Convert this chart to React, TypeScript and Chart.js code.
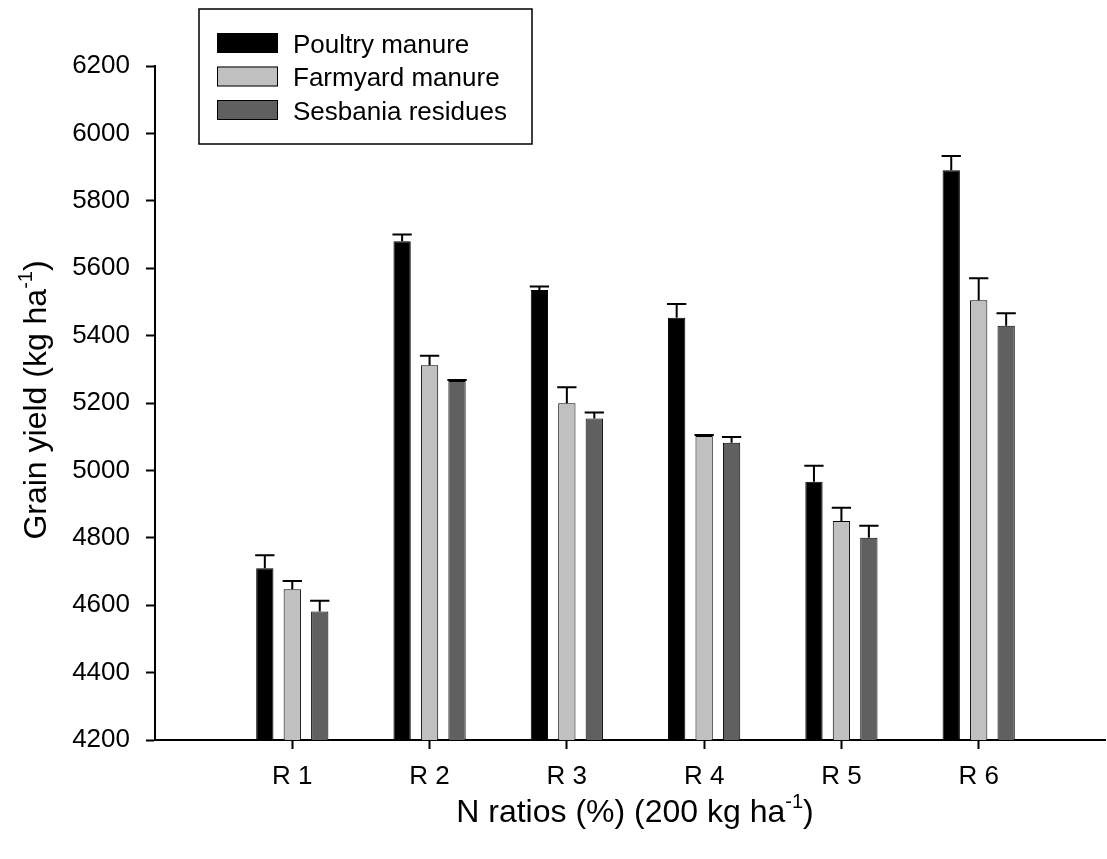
import React, { useEffect, useRef } from 'react';
import { Chart, registerables } from 'chart.js';

Chart.register(...registerables);

// ---- data ----
const categories = ['R 1', 'R 2', 'R 3', 'R 4', 'R 5', 'R 6'];
const seriesNames = ['Poultry manure', 'Farmyard manure', 'Sesbania residues'];
const seriesColors = ['#000000', '#c0c0c0', '#606060'];
const poultry = [4710, 5680, 5535, 5453, 4966, 5891];
const poultryErr = [38, 20, 11, 41, 48, 42];
const farmyard = [4647, 5312, 5199, 5102, 4850, 5505];
const farmyardErr = [25, 28, 48, 3, 39, 65];
const sesbania = [4581, 5265, 5154, 5082, 4800, 5429];
const sesbaniaErr = [32, 3, 18, 17, 36, 37];
const yMin = 4200;
const yMax = 6200;
const yStep = 200;
const xMax = 6.92;
const yTitle = ['Grain yield (kg ha', '-1', ')'];
const xTitle = ['N ratios (%) (200 kg ha', '-1', ')'];

const FONT = '"Liberation Sans", Arial, Helvetica, sans-serif';

function drawSupTitle(ctx: CanvasRenderingContext2D, parts: string[], size: number) {
  const main = `${size}px ${FONT}`;
  const sup = `${Math.round(size * 0.62)}px ${FONT}`;
  ctx.font = main;
  const w1 = ctx.measureText(parts[0]).width;
  const w3 = ctx.measureText(parts[2]).width;
  ctx.font = sup;
  const w2 = ctx.measureText(parts[1]).width;
  const total = w1 + w2 + w3;
  let x = -total / 2;
  ctx.textAlign = 'left';
  ctx.textBaseline = 'alphabetic';
  ctx.fillStyle = '#000';
  ctx.font = main;
  ctx.fillText(parts[0], x, 0);
  x += w1;
  ctx.font = sup;
  ctx.fillText(parts[1], x, -size * 0.45);
  x += w2;
  ctx.font = main;
  ctx.fillText(parts[2], x, 0);
}

const errorBarPlugin = {
  id: 'errorBars',
  afterDatasetsDraw(chart: any) {
    const ctx = chart.ctx;
    const yScale = chart.scales.y;
    ctx.save();
    ctx.strokeStyle = '#000';
    ctx.lineWidth = 2;
    chart.data.datasets.forEach((ds: any, di: number) => {
      const meta = chart.getDatasetMeta(di);
      meta.data.forEach((el: any, i: number) => {
        const v = ds.data[i].y;
        const e = ds.errors[i];
        const yTop = yScale.getPixelForValue(v + e);
        const half = el.width / 2 + 1;
        ctx.beginPath();
        ctx.moveTo(el.x, el.y);
        ctx.lineTo(el.x, yTop);
        ctx.moveTo(el.x - half, yTop);
        ctx.lineTo(el.x + half, yTop);
        ctx.stroke();
      });
    });
    ctx.restore();
  },
};

const decorPlugin = {
  id: 'decor',
  afterDraw(chart: any) {
    const ctx = chart.ctx;
    const area = chart.chartArea;
    ctx.save();
    // axis titles
    ctx.save();
    ctx.translate((area.left + area.right) / 2 + 5, 822);
    drawSupTitle(ctx, xTitle, 32);
    ctx.restore();
    ctx.save();
    ctx.translate(46, 400);
    ctx.rotate(-Math.PI / 2);
    drawSupTitle(ctx, yTitle, 32);
    ctx.restore();
    // legend
    const bx = 199, by = 9, bw = 333, bh = 135;
    ctx.fillStyle = '#fff';
    ctx.fillRect(bx, by, bw, bh);
    ctx.strokeStyle = '#000';
    ctx.lineWidth = 1.5;
    ctx.strokeRect(bx, by, bw, bh);
    ctx.font = `26px ${FONT}`;
    ctx.textAlign = 'left';
    ctx.textBaseline = 'alphabetic';
    chart.data.datasets.forEach((ds: any, i: number) => {
      const top = 33 + i * 33.5;
      ctx.fillStyle = ds.backgroundColor;
      ctx.fillRect(217, top, 61, 20);
      ctx.lineWidth = 1;
      ctx.strokeStyle = '#000';
      ctx.strokeRect(217.5, top + 0.5, 60, 19);
      ctx.fillStyle = '#000';
      ctx.fillText(ds.label, 293, top + 19.5);
    });
    ctx.restore();
  },
};

export default function App() {
  const ref = useRef<HTMLCanvasElement | null>(null);
  useEffect(() => {
    if (!ref.current) return;
    const values = [poultry, farmyard, sesbania];
    const errs = [poultryErr, farmyardErr, sesbaniaErr];
    const chart = new Chart(ref.current, {
      type: 'bar',
      data: {
        datasets: seriesNames.map((name, si) => ({
          label: name,
          data: values[si].map((v, i) => ({ x: i + 1, y: v })),
          errors: errs[si],
          backgroundColor: seriesColors[si],
          borderColor: '#000',
          borderWidth: 1,
          categoryPercentage: 0.6,
          barPercentage: 0.63,
        })) as any,
      },
      options: {
        animation: false,
        responsive: false,
        devicePixelRatio: 1,
        layout: { padding: { top: 66, right: 2, left: 0, bottom: 0 } },
        plugins: {
          legend: { display: false },
          tooltip: { enabled: false },
          title: { display: false },
        },
        scales: {
          x: {
            type: 'linear',
            min: 0,
            max: xMax,
            offset: false,
            grid: {
              offset: false,
              drawOnChartArea: false,
              drawTicks: true,
              tickLength: 9,
              tickWidth: 2,
              tickColor: '#000',
            },
            border: { display: true, color: '#000', width: 2 },
            ticks: {
              color: '#000',
              font: { family: FONT, size: 26 },
              padding: 12,
              maxRotation: 0,
              callback: (v: any) => categories[Number(v) - 1] ?? '',
            },
            afterBuildTicks: (scale: any) => {
              scale.ticks = categories.map((_, i) => ({ value: i + 1 }));
            },
            afterFit: (scale: any) => {
              scale.height = 119;
            },
          },
          y: {
            type: 'linear',
            min: yMin,
            max: yMax,
            grid: {
              offset: false,
              drawOnChartArea: false,
              drawTicks: true,
              tickLength: 9,
              tickWidth: 2,
              tickColor: '#000',
            },
            border: { display: true, color: '#000', width: 2 },
            ticks: {
              color: '#000',
              stepSize: yStep,
              font: { family: FONT, size: 26 },
              padding: 16,
              callback: (v: any) => String(v),
            },
            afterFit: (scale: any) => {
              scale.width = 155;
            },
          },
        },
      } as any,
      plugins: [errorBarPlugin, decorPlugin],
    });
    return () => chart.destroy();
  }, []);
  return (
    <div style={{ position: 'absolute', left: 0, top: 0, width: 1107, height: 859, background: '#fff' }}>
      <canvas ref={ref} width={1107} height={859} style={{ display: 'block' }} />
    </div>
  );
}
